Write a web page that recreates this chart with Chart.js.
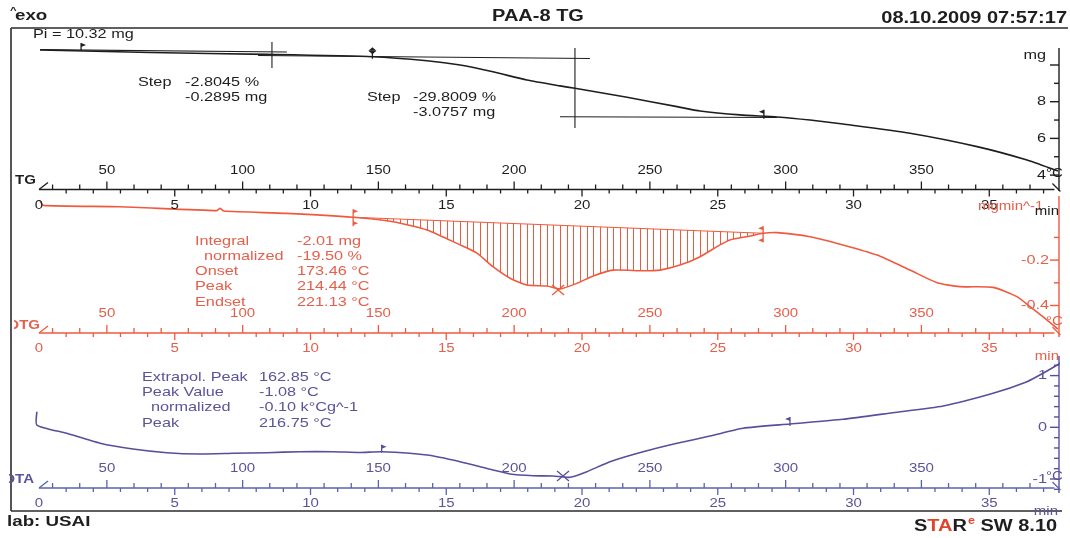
<!DOCTYPE html>
<html>
<head>
<meta charset="utf-8">
<script src="https://cdn.jsdelivr.net/npm/chart.js@4/dist/chart.umd.min.js"></script>
<style>
  html, body { margin: 0; padding: 0; background: #fff; }
  canvas { display: block; }
</style>
</head>
<body>
<canvas id="c" width="1070" height="538"></canvas>
<script>
// ---------- DATA (time in min) ----------
const tgTime = [0.04, 4.09, 8.40, 12.30, 14.29, 15.51, 16.72, 17.97, 19.19, 19.74, 21.66, 23.50, 24.35, 25.82, 27.18, 28.40, 29.61, 32.08, 34.55, 36.39, 37.53];
const tgMass = [10.82, 10.68, 10.58, 10.45, 10.23, 10.00, 9.63, 9.18, 8.86, 8.73, 8.24, 7.73, 7.49, 7.28, 7.17, 7.00, 6.78, 6.28, 5.55, 4.82, 4.22];

// tangents + step markers on the TG curve: [t0, mg0, t1, mg1]
const tgGuides = [
  [0.04, 10.84, 9.13, 10.71],
  [8.07, 10.52, 20.29, 10.35],
  [19.19, 7.18, 27.18, 7.14],
  [8.58, 11.25, 8.58, 9.84],
  [19.74, 10.93, 19.74, 6.57],
];

const dtgTime = [0.04, 0.15, 2.98, 6.55, 6.67, 6.81, 9.12, 11.57, 13.04, 14.29, 15.51, 16.13, 16.72, 17.35, 17.97, 18.71, 19.19, 19.82, 20.41, 21.14, 22.25, 22.87, 23.61, 24.35, 25.08, 25.45, 26.19, 26.67, 27.18, 28.40, 29.61, 30.87, 32.08, 33.08, 33.92, 35.14, 36.02, 36.50, 37.13, 37.53];
const dtgRate = [0.060, 0.041, 0.035, 0.018, 0.028, 0.016, 0.006, -0.011, -0.031, -0.067, -0.133, -0.169, -0.229, -0.280, -0.310, -0.314, -0.327, -0.302, -0.270, -0.244, -0.247, -0.244, -0.222, -0.185, -0.133, -0.111, -0.094, -0.082, -0.079, -0.097, -0.133, -0.178, -0.244, -0.300, -0.317, -0.320, -0.361, -0.405, -0.464, -0.504];
// integration limits (baseline)
const dtgBaseTime = [11.57, 26.67];
const dtgBaseRate = [-0.011, -0.082];

const dtaTime = [-0.08, -0.08, 1.02, 2.25, 3.46, 4.71, 5.93, 7.15, 8.40, 9.61, 10.83, 11.82, 12.62, 14.29, 15.51, 16.72, 17.35, 18.20, 18.93, 19.56, 20.18, 21.03, 22.25, 23.50, 24.71, 25.93, 27.66, 29.61, 31.45, 33.30, 35.14, 36.39, 36.98, 37.61];
const dtaDelta = [0.302, 0.044, -0.116, -0.309, -0.420, -0.491, -0.516, -0.503, -0.491, -0.472, -0.472, -0.487, -0.472, -0.536, -0.665, -0.826, -0.903, -0.936, -0.942, -0.967, -0.859, -0.665, -0.472, -0.309, -0.170, -0.019, 0.064, 0.155, 0.282, 0.412, 0.658, 0.882, 1.044, 1.238];

// markers: [t, value, kind]
const tgMarkers = [[1.55, 10.82, "flagR"], [12.28, 10.45, "diamond"], [26.7, 7.18, "flagL"]];
const dtgMarkers = [[11.57, -0.011, "dflagR"], [26.67, -0.082, "dflagL"], [19.12, -0.332, "x"]];
const dtaMarkers = [[12.62, -0.472, "flagR"], [19.30, -0.942, "x"], [27.66, 0.064, "flagL"]];

// ---------- TICK LABELS ----------
const tempLabels = [50, 100, 150, 200, 250, 300, 350];
const minuteLabels = [0, 5, 10, 15, 20, 25, 30, 35];
const mgTicks = [4, 5, 6, 7, 8, 9, 10];
const mgLabels = [4, 6, 8];
const dtgTicks = [-0.1, -0.2, -0.3, -0.4];
const dtgLabels = [-0.2, -0.4];
const dtaTicks = [-1.2, -1.0, -0.8, -0.6, -0.4, -0.2, 0, 0.2, 0.4, 0.6, 0.8, 1.0, 1.2];
const dtaLabels = [-1, 0, 1];

// heating program: 25 °C start, 10 K/min
const HEAT_START = 25;
const HEAT_RATE = 10;
const RULER_END = 37.4;

// ---------- COLOURS ----------
const BLACK = "#1e1e1e";
const RED = "#ef5a3e";
const RED_TXT = "#e5604c";
const PURPLE = "#5a4e9c";
const BLUE = "#5863ad";
const PURPLE_TXT = "#5b5498";

const SX = 1.25; // scan is stretched horizontally
const F = '"Liberation Sans", Arial, sans-serif';

function pts(xs, ys) {
  return xs.map((x, i) => ({ x: x, y: ys[i] }));
}
function tOf(T) {
  return (T - HEAT_START) / HEAT_RATE;
}

// ---------- HATCH PATTERN ----------
const canvas = document.getElementById("c");
const pc = document.createElement("canvas");
pc.width = 20;
pc.height = 4;
const pctx = pc.getContext("2d");
pctx.fillStyle = RED;
[0, 7, 13].forEach((x) => pctx.fillRect(x, 0, 1, 4));
const hatch = canvas.getContext("2d").createPattern(pc, "repeat");

// ---------- DATASETS ----------
const lineStyle = { showLine: true, pointRadius: 0, borderWidth: 1.6, tension: 0.2, fill: false };

const dtgPts = pts(dtgTime, dtgRate);
const datasets = [
  { ...lineStyle, data: pts(tgTime, tgMass), borderColor: BLACK, yAxisID: "yTG" },
];
tgGuides.forEach((g) => {
  datasets.push({ ...lineStyle, tension: 0, borderWidth: 1.1, data: [{ x: g[0], y: g[1] }, { x: g[2], y: g[3] }], borderColor: BLACK, yAxisID: "yTG" });
});
datasets.push({
  ...lineStyle,
  data: dtgPts.filter((p) => p.x >= dtgBaseTime[0] && p.x <= dtgBaseTime[1]),
  borderWidth: 0,
  borderColor: "rgba(0,0,0,0)",
  backgroundColor: hatch,
  fill: "+1",
  yAxisID: "yDTG",
});
datasets.push({ ...lineStyle, tension: 0, borderWidth: 1.1, data: pts(dtgBaseTime, dtgBaseRate), borderColor: RED, yAxisID: "yDTG" });
datasets.push({ ...lineStyle, data: dtgPts, borderColor: RED, yAxisID: "yDTG" });
datasets.push({ ...lineStyle, data: pts(dtaTime, dtaDelta), borderColor: PURPLE, yAxisID: "yDTA" });

// ---------- DRAW HELPERS ----------
function txt(ctx, s, x, y, size, color, align, bold) {
  ctx.save();
  ctx.font = (bold ? "bold " : "") + size + "px " + F;
  ctx.fillStyle = color;
  ctx.textBaseline = "middle";
  ctx.textAlign = "left";
  const w = ctx.measureText(s).width * SX;
  const left = align === "center" ? x - w / 2 : align === "right" ? x - w : x;
  ctx.translate(left, y);
  ctx.scale(SX, 1);
  ctx.fillText(s, 0, 0);
  ctx.restore();
  return w;
}

function seg(ctx, x0, y0, x1, y1) {
  ctx.beginPath();
  ctx.moveTo(x0, y0);
  ctx.lineTo(x1, y1);
  ctx.stroke();
}

function tri(ctx, x0, y0, x1, y1, x2, y2) {
  ctx.beginPath();
  ctx.moveTo(x0, y0);
  ctx.lineTo(x1, y1);
  ctx.lineTo(x2, y2);
  ctx.closePath();
  ctx.fill();
}

function marker(ctx, kind, px, py, color) {
  ctx.strokeStyle = color;
  ctx.fillStyle = color;
  ctx.lineWidth = 1.3;
  if (kind === "flagR") {
    seg(ctx, px, py - 7, px, py + 1);
    tri(ctx, px, py - 7, px + 5, py - 5, px, py - 3);
  } else if (kind === "flagL") {
    seg(ctx, px, py - 7, px, py + 2);
    tri(ctx, px, py - 7, px - 5, py - 5, px, py - 3);
  } else if (kind === "diamond") {
    seg(ctx, px, py - 5, px, py + 2);
    tri(ctx, px - 4, py - 6, px, py - 9.5, px + 4, py - 6);
    tri(ctx, px - 4, py - 6, px, py - 2.5, px + 4, py - 6);
  } else if (kind === "dflagR") {
    seg(ctx, px, py - 8, px, py + 9);
    tri(ctx, px, py - 8, px + 5, py - 6, px, py - 4);
    tri(ctx, px, py + 4, px + 5, py + 6, px, py + 8);
  } else if (kind === "dflagL") {
    seg(ctx, px, py - 7, px, py + 9);
    tri(ctx, px, py - 7, px - 5, py - 5, px, py - 3);
    tri(ctx, px, py + 5, px - 5, py + 7, px, py + 9);
  } else if (kind === "x") {
    seg(ctx, px - 6, py - 5, px + 6, py + 5);
    seg(ctx, px - 6, py + 5, px + 6, py - 5);
  }
}

function ruler(ctx, xs, y, col, txtCol) {
  const x0 = xs.getPixelForValue(0);
  const x1 = xs.getPixelForValue(RULER_END);
  ctx.strokeStyle = col;
  ctx.lineWidth = 1.3;
  seg(ctx, x0, y, x1, y);
  seg(ctx, x0, y, x0 + 9, y - 7);
  seg(ctx, x1 - 2, y - 6, x1 + 6, y + 2);
  for (let T = 30; T <= 390; T += 10) {
    const px = xs.getPixelForValue(tOf(T));
    seg(ctx, px, y, px, y - (T % 50 === 0 ? 8 : 5));
  }
  for (let m = 1; m <= 37; m++) {
    const px = xs.getPixelForValue(m);
    seg(ctx, px, y, px, y + (m % 5 === 0 ? 7 : 4));
  }
  tempLabels.forEach((T) => txt(ctx, String(T), xs.getPixelForValue(tOf(T)), y - 19, 12, txtCol, "center"));
  minuteLabels.forEach((m) => txt(ctx, String(m), xs.getPixelForValue(m), y + 16, 12, txtCol, "center"));
}

function rightAxis(ctx, ys, ticks, majors, col, yTop, yBot) {
  const ax = 1059;
  ctx.strokeStyle = col;
  ctx.lineWidth = 1.4;
  seg(ctx, ax, yTop, ax, yBot);
  ticks.forEach((v) => {
    const py = ys.getPixelForValue(v);
    const big = majors.some((m) => Math.abs(m - v) < 1e-6);
    seg(ctx, ax - (big ? 9 : 5), py, ax, py);
  });
}

// ---------- PAPER PLUGIN ----------
const paper = {
  id: "paper",
  beforeDraw(c) {
    const ctx = c.ctx;
    ctx.save();
    ctx.fillStyle = "#fff";
    ctx.fillRect(0, 0, c.width, c.height);
    ctx.restore();
  },
  afterDatasetsDraw(c) {
    const ctx = c.ctx;
    const xs = c.scales.x;
    const yTG = c.scales.yTG;
    const yDTG = c.scales.yDTG;
    const yDTA = c.scales.yDTA;
    ctx.save();
    ctx.lineCap = "butt";

    // frame
    ctx.strokeStyle = "#2b2b2b";
    ctx.lineWidth = 1.6;
    seg(ctx, 11, 28, 1068, 28);
    seg(ctx, 11, 28, 11, 511);
    seg(ctx, 11, 511, 1062, 511);

    // header
    txt(ctx, "^", 10, 11, 9, BLACK, "left", true);
    txt(ctx, "exo", 15, 16, 15, BLACK, "left", true);
    txt(ctx, "PAA-8 TG", 538, 17, 16, BLACK, "center", true);
    txt(ctx, "08.10.2009 07:57:17", 1067, 19, 16, BLACK, "right", true);

    // ----- TG panel -----
    txt(ctx, "Pi = 10.32 mg", 33, 34, 13, BLACK, "left");
    txt(ctx, "Step", 138, 82, 13, BLACK, "left");
    txt(ctx, "-2.8045 %", 185, 82, 13, BLACK, "left");
    txt(ctx, "-0.2895 mg", 185, 97, 13, BLACK, "left");
    txt(ctx, "Step", 367, 97, 13, BLACK, "left");
    txt(ctx, "-29.8009 %", 413, 97, 13, BLACK, "left");
    txt(ctx, "-3.0757 mg", 413, 112.5, 13, BLACK, "left");
    tgMarkers.forEach((m) => marker(ctx, m[2], xs.getPixelForValue(m[0]), yTG.getPixelForValue(m[1]), BLACK));

    rightAxis(ctx, yTG, mgTicks, [4, 6, 8, 10], BLACK, 48, 191);
    txt(ctx, "mg", 1046, 55, 13, BLACK, "right");
    mgLabels.forEach((v) => txt(ctx, String(v), 1046, yTG.getPixelForValue(v), 13, BLACK, "right"));
    txt(ctx, "°C", 1046, 174, 12, BLACK, "left");

    ruler(ctx, xs, 189.5, BLACK, BLACK);
    txt(ctx, "TG", 15, 181, 12, BLACK, "left", true);
    txt(ctx, "mgmin^-1", 978, 207, 12, RED_TXT, "left");
    txt(ctx, "min", 1059, 212, 12, BLACK, "right");

    // ----- DTG panel -----
    const dl = [["Integral", "-2.01 mg", 195], ["normalized", "-19.50 %", 204], ["Onset", "173.46 °C", 195], ["Peak", "214.44 °C", 195], ["Endset", "221.13 °C", 195]];
    dl.forEach((r, i) => {
      txt(ctx, r[0], r[2], 241 + i * 15.3, 13, RED_TXT, "left");
      txt(ctx, r[1], 297, 241 + i * 15.3, 13, RED_TXT, "left");
    });
    dtgMarkers.forEach((m) => marker(ctx, m[2], xs.getPixelForValue(m[0]), yDTG.getPixelForValue(m[1]), RED));

    rightAxis(ctx, yDTG, dtgTicks, dtgLabels, RED, 196, 337);
    dtgLabels.forEach((v) => txt(ctx, v.toFixed(1), 1049, yDTG.getPixelForValue(v), 13, RED_TXT, "right"));
    txt(ctx, "°C", 1046, 322, 12, RED_TXT, "left");

    ruler(ctx, xs, 333, RED, RED_TXT);
    ctx.save();
    ctx.beginPath();
    ctx.rect(14, 300, 60, 50);
    ctx.clip();
    txt(ctx, "DTG", 40, 326, 12, RED_TXT, "right", true);
    ctx.restore();
    txt(ctx, "min", 1059, 357, 12, RED_TXT, "right");

    // ----- DTA panel -----
    const al = [["Extrapol. Peak", "162.85 °C", 142], ["Peak Value", "-1.08 °C", 142], ["normalized", "-0.10 k°Cg^-1", 151], ["Peak", "216.75 °C", 142]];
    al.forEach((r, i) => {
      txt(ctx, r[0], r[2], 377 + i * 15.4, 13, PURPLE_TXT, "left");
      txt(ctx, r[1], 259, 377 + i * 15.4, 13, PURPLE_TXT, "left");
    });
    dtaMarkers.forEach((m) => marker(ctx, m[2], xs.getPixelForValue(m[0]), yDTA.getPixelForValue(m[1]), PURPLE));

    rightAxis(ctx, yDTA, dtaTicks, dtaLabels, PURPLE, 356, 493);
    dtaLabels.forEach((v) => txt(ctx, String(v), 1047, yDTA.getPixelForValue(v), 13, PURPLE_TXT, "right"));
    txt(ctx, "°C", 1046, 477, 12, PURPLE_TXT, "left");

    ruler(ctx, xs, 488, BLUE, PURPLE_TXT);
    ctx.save();
    ctx.beginPath();
    ctx.rect(9, 460, 60, 40);
    ctx.clip();
    txt(ctx, "DTA", 34, 480, 12, PURPLE_TXT, "right", true);
    ctx.restore();
    txt(ctx, "min", 1058, 512, 12, PURPLE_TXT, "right");

    // footer
    txt(ctx, "lab: USAI", 7, 522, 15, BLACK, "left", true);
    let fx = 914;
    fx += txt(ctx, "S", fx, 527, 16, BLACK, "left", true);
    fx += txt(ctx, "TA", fx, 527, 16, "#e0452c", "left", true);
    fx += txt(ctx, "R", fx, 527, 16, BLACK, "left", true);
    fx += txt(ctx, "e", fx + 1, 521, 10, "#e0452c", "left", true) + 1;
    txt(ctx, " SW 8.10", fx, 527, 16, BLACK, "left", true);

    ctx.restore();
  },
};

// ---------- CHART ----------
new Chart(canvas, {
  type: "scatter",
  data: { datasets: datasets },
  options: {
    responsive: false,
    animation: false,
    devicePixelRatio: 1,
    events: [],
    layout: { padding: { left: 12, right: 10, top: 28, bottom: 20 } },
    plugins: { legend: { display: false }, tooltip: { enabled: false } },
    scales: {
      x: { type: "linear", min: -0.9945, max: 37.605, display: false },
      yTG: { type: "linear", position: "right", min: -14.687, max: 12.016, display: false },
      yDTG: { type: "linear", position: "right", min: -1.3361, max: 0.8225, display: false },
      yDTA: { type: "linear", position: "right", min: -1.7544, max: 7.7234, display: false },
    },
  },
  plugins: [paper],
});
</script>
</body>
</html>
